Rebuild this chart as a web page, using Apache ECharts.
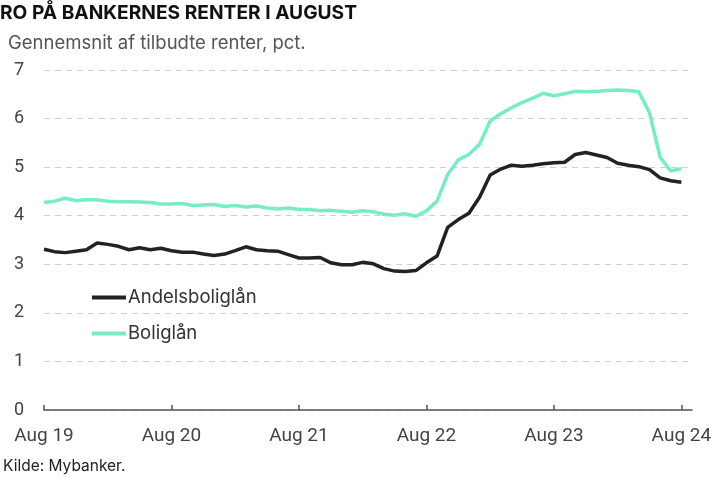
<!DOCTYPE html>
<html><head><meta charset="utf-8">
<script src="https://cdn.jsdelivr.net/npm/echarts@6/dist/echarts.min.js"></script>
<style>html,body{margin:0;padding:0;background:#fff}#c{width:720px;height:478px}</style>
</head><body><div id="c"></div>
<script>
// months Aug 2019 .. Aug 2024 (+ one empty month to extend the axis)
const years = ['19','20','21','22','23','24'];
const monthNames = ['Aug','Sep','Okt','Nov','Dec','Jan','Feb','Mar','Apr','Maj','Jun','Jul'];
const categories = [];
for (let y = 0; y < 6; y++) {
  for (let m = 0; m < 12; m++) {
    if (y === 5 && m > 0) break;
    const yr = m < 5 ? years[y] : years[y+1];
    categories.push(monthNames[m] + ' ' + yr);
  }
}
const andelsbolig = [3.31,3.26,3.24,3.27,3.30,3.44,3.41,3.37,3.30,3.34,3.30,3.33,3.28,3.25,3.25,3.21,3.18,3.21,3.28,3.36,3.30,3.28,3.27,3.20,3.13,3.13,3.14,3.03,2.99,2.99,3.04,3.01,2.91,2.86,2.85,2.87,3.03,3.17,3.76,3.92,4.05,4.38,4.84,4.96,5.04,5.02,5.04,5.07,5.09,5.10,5.26,5.30,5.25,5.20,5.08,5.04,5.01,4.95,4.78,4.72,4.69];
const bolig = [4.27,4.30,4.36,4.31,4.33,4.33,4.30,4.29,4.29,4.28,4.27,4.24,4.24,4.25,4.21,4.22,4.23,4.19,4.21,4.18,4.20,4.16,4.14,4.16,4.13,4.13,4.10,4.11,4.09,4.07,4.10,4.08,4.03,4.01,4.04,3.99,4.10,4.30,4.85,5.15,5.26,5.47,5.95,6.10,6.22,6.33,6.42,6.52,6.47,6.51,6.56,6.55,6.56,6.58,6.59,6.58,6.55,6.12,5.20,4.92,4.97];
const yTicks = [0,1,2,3,4,5,6,7];

const chart = echarts.init(document.getElementById('c'));
chart.setOption({
  animation: false,
  title: [
    {text: 'RO PÅ BANKERNES RENTER I AUGUST', left: 0, top: 4, padding: 0,
     textStyle: {fontFamily: 'Inter', fontWeight: 'bold', fontSize: 19.2, color: '#111'}},
    {text: 'Gennemsnit af tilbudte renter, pct.', left: 8, top: 34, padding: 0,
     textStyle: {fontFamily: 'Inter', fontWeight: 'normal', fontSize: 18.5, color: '#555'}},
    {text: 'Kilde: Mybanker.', left: 3, top: 458, padding: 0,
     textStyle: {fontFamily: 'Inter', fontWeight: 'normal', fontSize: 15.5, color: '#222'}}
  ],
  legend: {
    orient: 'vertical', left: 92, top: 288, itemGap: 17, padding: 0,
    itemWidth: 34, itemHeight: 4, icon: 'rect',
    textStyle: {fontFamily: 'Inter', fontSize: 18.5, color: '#333', padding: [0,0,0,-3]},
    data: ['Andelsboliglån', 'Boliglån']
  },
  grid: {left: 44, right: 28, top: 70, bottom: 68},
  xAxis: {
    type: 'category', data: categories.concat(['']), boundaryGap: false,
    axisLine: {lineStyle: {color: '#555', width: 1.5}},
    axisTick: {inside: true, length: 5, interval: 11, lineStyle: {color: '#555', width: 1.5}},
    axisLabel: {interval: 11, margin: 17, fontFamily: 'Roboto', fontSize: 19, color: '#444'},
    splitLine: {show: false}
  },
  yAxis: {
    type: 'value', min: yTicks[0], max: yTicks[yTicks.length-1], interval: 1,
    axisLine: {show: false}, axisTick: {show: false},
    axisLabel: {margin: 20, fontFamily: 'Roboto', fontSize: 18, color: '#444'},
    splitLine: {lineStyle: {color: '#cfcfcf', type: [6,5], width: 1.2}}
  },
  series: [
    {name: 'Andelsboliglån', type: 'line', data: andelsbolig, showSymbol: false, symbol: 'none',
     lineStyle: {color: '#222222', width: 3.5}, itemStyle: {color: '#222222'}, z: 3},
    {name: 'Boliglån', type: 'line', data: bolig, showSymbol: false, symbol: 'none',
     lineStyle: {color: '#78ecc4', width: 3.5}, itemStyle: {color: '#78ecc4'}, z: 2}
  ]
});
</script></body></html>
